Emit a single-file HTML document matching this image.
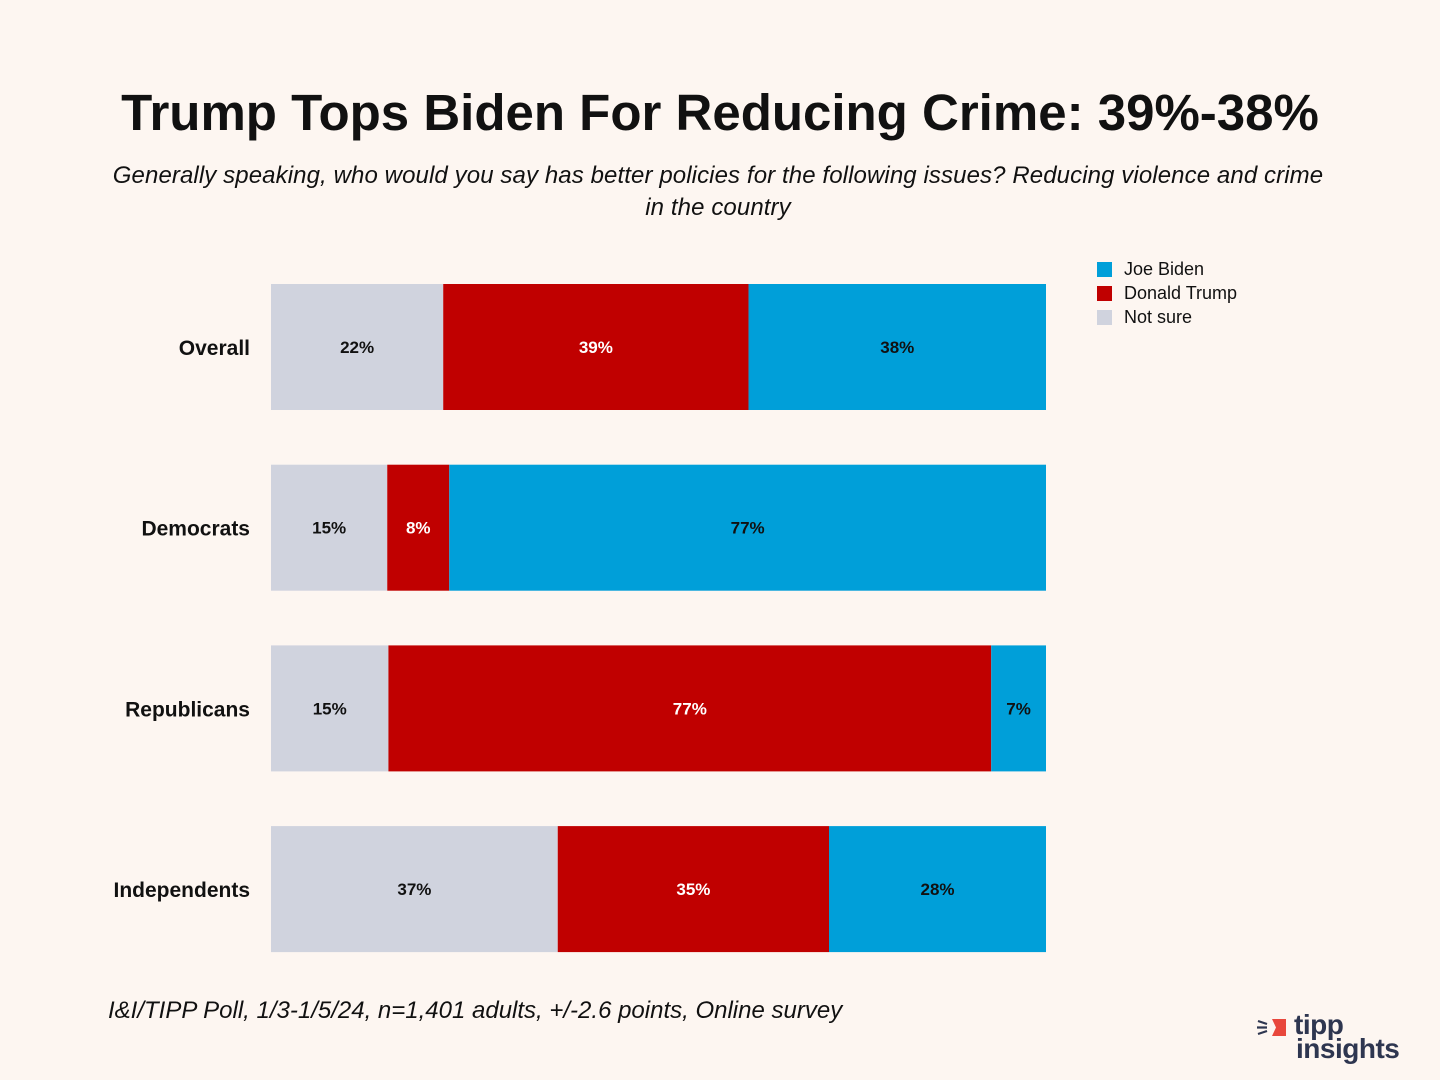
<!DOCTYPE html>
<html><head><meta charset="utf-8"><style>
body{margin:0;background:#fdf6f1;font-family:"Liberation Sans",sans-serif;}
#wrap{position:relative;width:1440px;height:1080px;overflow:hidden;}
.t{position:absolute;white-space:nowrap;}
</style></head><body>
<div id="wrap">
<div class="t" style="left:0;width:1440px;text-align:center;top:83px;font-size:51px;font-weight:bold;color:#111;">Trump Tops Biden For Reducing Crime: 39%-38%</div>
<div class="t" style="left:0;width:1436px;text-align:center;top:160px;font-size:24px;letter-spacing:0.1px;font-style:italic;color:#111;line-height:32px;white-space:normal;">Generally speaking, who would you say has better policies for the following issues? Reducing violence and crime<br>in the country</div>
<div>
<div class="t" style="left:1097px;top:259px;font-size:18px;color:#111;"><span style="display:inline-block;width:15px;height:15px;background:#009fd9;vertical-align:-2px;margin-right:12px"></span>Joe Biden</div>
<div class="t" style="left:1097px;top:283px;font-size:18px;color:#111;"><span style="display:inline-block;width:15px;height:15px;background:#c00000;vertical-align:-2px;margin-right:12px"></span>Donald Trump</div>
<div class="t" style="left:1097px;top:307px;font-size:18px;color:#111;"><span style="display:inline-block;width:15px;height:15px;background:#d0d3de;vertical-align:-2px;margin-right:12px"></span>Not sure</div>
</div>
<svg id="plot" width="1440" height="1080" style="position:absolute;left:0;top:0"></svg>
<div class="t" style="left:108px;top:997px;font-size:24px;letter-spacing:0px;font-style:italic;color:#111;">I&amp;I/TIPP Poll, 1/3-1/5/24, n=1,401 adults, +/-2.6 points, Online survey</div>
<div style="position:absolute;left:1256px;top:1012px;width:160px;height:56px;">
<svg width="36" height="24" style="position:absolute;left:0;top:4px"><path d="M16 3h14v17h-14l4-8.5z" fill="#e8473c"/><path d="M2 5l9 3M1 11.5h10M2 18l9-3" stroke="#2e3650" stroke-width="2.2"/></svg>
<div class="t" style="left:38px;top:-2px;font-size:28px;font-weight:bold;color:#2e3650;letter-spacing:-0.5px;line-height:30px;">tipp</div>
<div class="t" style="left:40px;top:22px;font-size:28px;font-weight:bold;color:#2e3650;letter-spacing:-0.5px;line-height:30px;">insights</div>
</div>
</div>
<script>
const groups=["Overall","Democrats","Republicans","Independents"];
const notSure=[22,15,15,37];
const trump=[39,8,77,35];
const biden=[38,77,7,28];
const svg=document.getElementById('plot');
const NS="http://www.w3.org/2000/svg";
const x0=271,W=775,top0=284,step=180.7,bh=126;
function xs(frac){return x0+frac*W;}
function yb(i){return top0+i*step;}
groups.forEach((g,i)=>{
  const tot=notSure[i]+trump[i]+biden[i];
  const segs=[[notSure[i],'#d0d3de','#111','not-sure'],[trump[i],'#c00000','#fff','trump'],[biden[i],'#009fd9','#111','biden']];
  let acc=0;
  segs.forEach(s=>{
    const xa=xs(acc/tot),xb=xs((acc+s[0])/tot);
    const r=document.createElementNS(NS,'rect');
    r.setAttribute('x',xa);r.setAttribute('y',yb(i));r.setAttribute('width',xb-xa);r.setAttribute('height',bh);r.setAttribute('fill',s[1]);
    
    
    svg.appendChild(r);
    const t=document.createElementNS(NS,'text');
    t.setAttribute('x',(xa+xb)/2);t.setAttribute('y',yb(i)+bh/2+6);t.setAttribute('text-anchor','middle');
    t.setAttribute('font-size','17');t.setAttribute('font-weight','bold');t.setAttribute('fill',s[2]);t.setAttribute('font-family','Liberation Sans, sans-serif');
    t.textContent=s[0]+'%';
    
    
    svg.appendChild(t);
    acc+=s[0];
  });
  const l=document.createElementNS(NS,'text');
  l.setAttribute('x',250);l.setAttribute('y',yb(i)+bh/2+8);l.setAttribute('text-anchor','end');
  l.setAttribute('font-size','21');l.setAttribute('font-weight','bold');l.setAttribute('fill','#111');l.setAttribute('font-family','Liberation Sans, sans-serif');
  l.textContent=g;
  
  
  svg.appendChild(l);
});
</script>
</body></html>
